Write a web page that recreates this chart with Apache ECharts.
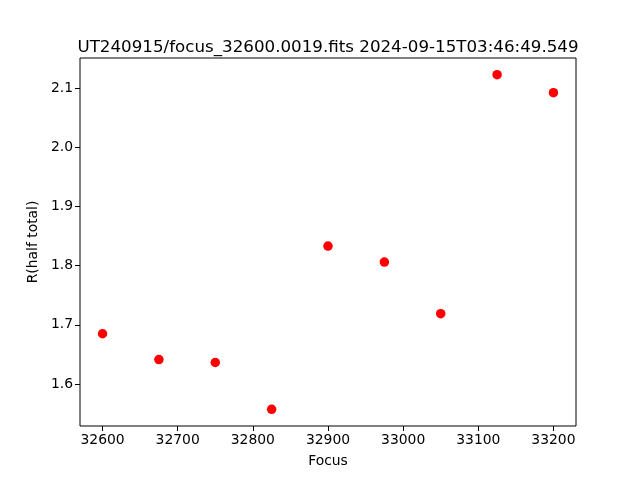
<!DOCTYPE html>
<html>
<head>
<meta charset="utf-8">
<script src="https://cdn.jsdelivr.net/npm/echarts@6/dist/echarts.min.js"></script>
<style>html,body{margin:0;padding:0;background:#fff;}#c{width:640px;height:480px;}</style>
</head>
<body>
<div id="c"></div>
<script>
var focusValues = [32600, 32675, 32750, 32825, 32900, 32975, 33050, 33125, 33200];
var rHalfTotal = [1.685, 1.6415, 1.6365, 1.5575, 1.833, 1.806, 1.719, 2.1224, 2.092];
var xTicks = [32600, 32700, 32800, 32900, 33000, 33100, 33200];
var yTicks = [1.6, 1.7, 1.8, 1.9, 2.0, 2.1];
var titleText = 'UT240915/focus_32600.0019.fits 2024-09-15T03:46:49.549';

var xr = Math.max.apply(null, focusValues) - Math.min.apply(null, focusValues);
var yr = Math.max.apply(null, rHalfTotal) - Math.min.apply(null, rHalfTotal);
var xMin = Math.min.apply(null, focusValues) - 0.05 * xr;
var xMax = Math.max.apply(null, focusValues) + 0.05 * xr;
var yMin = Math.min.apply(null, rHalfTotal) - 0.05 * yr;
var yMax = Math.max.apply(null, rHalfTotal) + 0.05 * yr;

var font = 'DejaVu Sans';
var chart = echarts.init(document.getElementById('c'), null, {renderer: 'canvas'});
chart.setOption({
  animation: false,
  backgroundColor: '#ffffff',
  title: {
    text: titleText, left: 323, top: 34, textAlign: 'center',
    textStyle: {fontFamily: font, fontSize: 16.7, fontWeight: 'normal', color: '#000'}
  },
  grid: {left: 80, right: 64, top: 58, bottom: 54, show: true, borderColor: '#000', borderWidth: 1, backgroundColor: 'transparent'},
  xAxis: {
    type: 'value', min: xMin, max: xMax,
    name: 'Focus', nameLocation: 'middle', nameGap: 28,
    nameTextStyle: {fontFamily: font, fontSize: 13.9, color: '#000'},
    axisLine: {show: false},
    axisTick: {show: true, length: 5, inside: false, lineStyle: {color: '#000'}, customValues: xTicks},
    axisLabel: {fontFamily: font, fontSize: 13.9, color: '#000', margin: 7, customValues: xTicks,
      formatter: function (v) { return String(v); }},
    splitLine: {show: false}
  },
  yAxis: {
    type: 'value', min: yMin, max: yMax,
    name: 'R(half total)', nameLocation: 'middle', nameGap: 36, nameRotate: 90,
    nameTextStyle: {fontFamily: font, fontSize: 13.9, color: '#000'},
    axisLine: {show: false},
    axisTick: {show: true, length: 5, inside: false, lineStyle: {color: '#000'}, customValues: yTicks},
    axisLabel: {fontFamily: font, fontSize: 13.9, color: '#000', margin: 7, customValues: yTicks,
      formatter: function (v) { return v.toFixed(1); }},
    splitLine: {show: false}
  },
  series: [{
    type: 'scatter',
    data: focusValues.map(function (x, i) { return [x, rHalfTotal[i]]; }),
    symbol: 'circle', symbolSize: 9.5,
    itemStyle: {color: '#ff0000', opacity: 1}
  }]
});
</script>
</body>
</html>
